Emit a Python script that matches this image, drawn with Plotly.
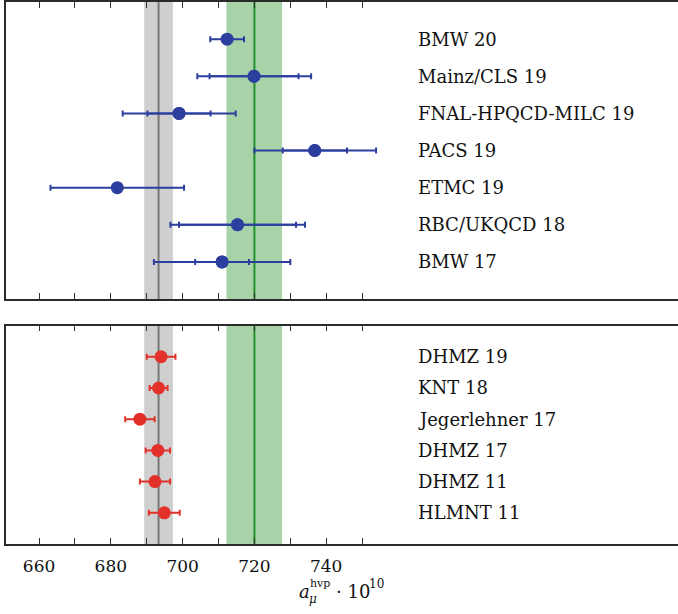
import plotly.graph_objects as go

# Lattice QCD determinations (top panel), listed top to bottom
lattice_labels = ["BMW 20", "Mainz/CLS 19", "FNAL-HPQCD-MILC 19", "PACS 19",
                  "ETMC 19", "RBC/UKQCD 18", "BMW 17"]
lattice_value = [712.4, 719.9, 699.0, 736.8, 681.8, 715.3, 711.0]
# inner (statistical) error; None where only a total error is shown
lattice_inner_minus = [None, 12.4, 8.8, 8.9, None, 16.3, 7.5]
lattice_inner_plus = [None, 12.4, 8.8, 9.0, None, 16.3, 7.5]
# total error
lattice_total_minus = [4.7, 15.8, 15.7, 16.8, 18.6, 18.7, 19.0]
lattice_total_plus = [4.7, 15.9, 15.8, 17.1, 18.6, 18.8, 19.0]

# Data-driven (e+e-) determinations (bottom panel), listed top to bottom
pheno_labels = ["DHMZ 19", "KNT 18", "Jegerlehner 17", "DHMZ 17", "DHMZ 11", "HLMNT 11"]
pheno_value = [694.0, 693.3, 688.1, 693.1, 692.3, 694.9]
pheno_err = [4.0, 2.5, 4.1, 3.4, 4.2, 4.3]

# Reference bands: data-driven average (grey) and value required by experiment (green)
grey_center, grey_low, grey_high = 693.3, 689.3, 697.3
green_center, green_low, green_high = 720.0, 712.2, 727.7

x_ticks = [660, 670, 680, 690, 700, 710, 720, 730, 740, 750]
x_tick_text = ["660", "", "680", "", "700", "", "720", "", "740", ""]

BLUE = "#2c3f9e"
RED = "#e2302a"
FONT = "DejaVu Serif"

n_lat = len(lattice_labels)
n_ph = len(pheno_labels)
lat_y = [n_lat - i for i in range(n_lat)]
ph_y = [n_ph - i for i in range(n_ph)]

fig = go.Figure()

# top panel: total error bars
fig.add_trace(go.Scatter(
    x=lattice_value, y=lat_y, mode="markers",
    marker=dict(color=BLUE, size=13, line=dict(width=0)),
    error_x=dict(type="data", symmetric=False, array=lattice_total_plus,
                 arrayminus=lattice_total_minus, color=BLUE, thickness=2, width=3),
    xaxis="x", yaxis="y", showlegend=False, hoverinfo="skip"))

# top panel: inner error caps
in_x = [v for v, e in zip(lattice_value, lattice_inner_plus) if e is not None]
in_y = [y for y, e in zip(lat_y, lattice_inner_plus) if e is not None]
in_p = [e for e in lattice_inner_plus if e is not None]
in_m = [e for e in lattice_inner_minus if e is not None]
fig.add_trace(go.Scatter(
    x=in_x, y=in_y, mode="markers",
    marker=dict(color=BLUE, size=13, line=dict(width=0)),
    error_x=dict(type="data", symmetric=False, array=in_p, arrayminus=in_m,
                 color=BLUE, thickness=2, width=3),
    xaxis="x", yaxis="y", showlegend=False, hoverinfo="skip"))

# bottom panel
fig.add_trace(go.Scatter(
    x=pheno_value, y=ph_y, mode="markers",
    marker=dict(color=RED, size=13, line=dict(width=0)),
    error_x=dict(type="data", array=pheno_err, color=RED, thickness=2, width=3),
    xaxis="x2", yaxis="y2", showlegend=False, hoverinfo="skip"))

# bands and central lines in both panels
for yref in ["y domain", "y2 domain"]:
    xref = "x" if yref == "y domain" else "x2"
    fig.add_shape(type="rect", xref=xref, yref=yref, x0=grey_low, x1=grey_high,
                  y0=0, y1=1, fillcolor="#cfcfcf", line=dict(width=0), layer="below")
    fig.add_shape(type="rect", xref=xref, yref=yref, x0=green_low, x1=green_high,
                  y0=0, y1=1, fillcolor="#a8d2a8", line=dict(width=0), layer="below")
    fig.add_shape(type="line", xref=xref, yref=yref, x0=grey_center, x1=grey_center,
                  y0=0, y1=1, line=dict(color="#777777", width=2), layer="below")
    fig.add_shape(type="line", xref=xref, yref=yref, x0=green_center, x1=green_center,
                  y0=0, y1=1, line=dict(color="#1f922a", width=2), layer="below")

LABEL_SIZE = 18
annotations = []
for lab, y in zip(lattice_labels, lat_y):
    annotations.append(dict(x=765, y=y, xref="x", yref="y", text=lab, showarrow=False,
                            xanchor="left", yanchor="middle",
                            font=dict(family=FONT, size=LABEL_SIZE, color="#111")))
for lab, y in zip(pheno_labels, ph_y):
    annotations.append(dict(x=765, y=y, xref="x2", yref="y2", text=lab, showarrow=False,
                            xanchor="left", yanchor="middle",
                            font=dict(family=FONT, size=LABEL_SIZE, color="#111")))

# axis title  a_mu^hvp * 10^10, assembled from pieces
W, H, L, B = 672, 542, 6, 70
TOP = 614 - B


def px(x):
    return (x - L) / W


def py(y):
    return (TOP - y) / H


title_parts = [
    ("<i>a</i>", 297, 591, 18),
    ("hvp", 308, 584, 11),
    ("<i>μ</i>", 307, 599, 12),
    ("· 10", 334, 591, 18),
    ("10", 367, 584, 12),
]
for txt, x, y, s in title_parts:
    annotations.append(dict(x=px(x), y=py(y), xref="paper", yref="paper", text=txt,
                            showarrow=False, xanchor="left", yanchor="middle",
                            font=dict(family=FONT, size=s, color="#111")))

xaxis_common = dict(
    range=[650.8, 838.0], tickvals=x_ticks, ticks="inside", ticklen=6, tickwidth=1,
    tickcolor="#333", showline=True, linecolor="#2a2a2a", linewidth=1.5,
    mirror="allticks", showgrid=False, zeroline=False, fixedrange=True)

fig.update_layout(
    width=678, height=614,
    margin=dict(l=L, r=0, t=2, b=B),
    paper_bgcolor="white", plot_bgcolor="white",
    xaxis=dict(**xaxis_common, anchor="y", showticklabels=False),
    xaxis2=dict(**xaxis_common, anchor="y2", ticktext=x_tick_text,
                tickfont=dict(family=FONT, size=17, color="#111"),
                ticklabelstandoff=6),
    yaxis=dict(domain=[0.452, 1.0], range=[0, n_lat + 1], showticklabels=False,
               ticks="", showgrid=False, zeroline=False, showline=True,
               linecolor="#2a2a2a", linewidth=1.5, anchor="x"),
    yaxis2=dict(domain=[0.0, 0.403], range=[0, n_ph + 1], showticklabels=False,
                ticks="", showgrid=False, zeroline=False, showline=True,
                linecolor="#2a2a2a", linewidth=1.5, anchor="x2"),
    annotations=annotations,
    showlegend=False,
)

fig.write_html("out.html")
